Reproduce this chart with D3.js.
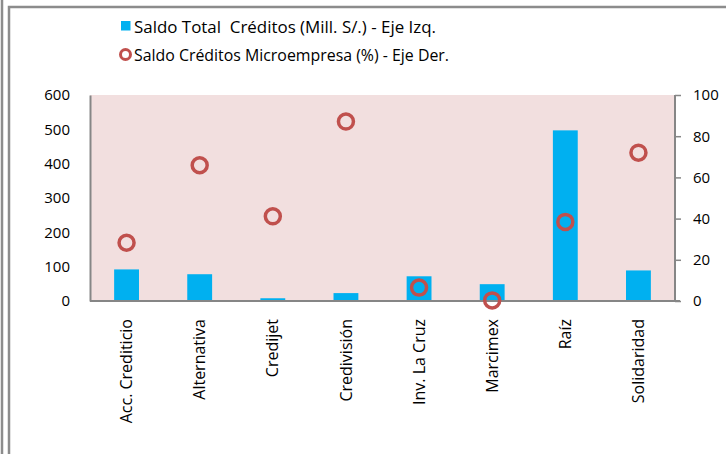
<!DOCTYPE html>
<html>
<head>
<meta charset="utf-8">
<script src="https://cdn.jsdelivr.net/npm/d3@7"></script>
<style>
  body { margin: 0; background: #fff; }
  svg text { font-family: "Open Sans", sans-serif; fill: #000; }
</style>
</head>
<body>
<div id="chart"></div>
<script>
// datos
var entidades = ["Acc. Crediticio", "Alternativa", "Credijet", "Credivisión", "Inv. La Cruz", "Marcimex", "Raíz", "Solidaridad"];
var saldoTotal = [92, 78, 8, 23, 72, 49, 497, 89];        // Mill. S/. - eje izq.
var saldoMicro = [28.3, 65.9, 41.1, 87.1, 6.5, 0.3, 38.4, 72.0]; // % - eje der.
var ticksIzq = [0, 100, 200, 300, 400, 500, 600];
var ticksDer = [0, 20, 40, 60, 80, 100];
var leyenda = ["Saldo Total  Créditos (Mill. S/.) - Eje Izq.", "Saldo Créditos Microempresa (%) - Eje Der."];

var W = 726, H = 454;
var margin = { top: 95, right: 51, bottom: 153, left: 90 };
var width = W - margin.left - margin.right;
var height = H - margin.top - margin.bottom;

var svg = d3.select("#chart").append("svg")
  .attr("width", W)
  .attr("height", H);

// marco exterior
svg.append("line").attr("x1", 2).attr("x2", 2).attr("y1", 0).attr("y2", H)
  .attr("stroke", "#8c8c8c").attr("stroke-width", 2.5);
svg.append("path").attr("d", "M9," + H + "V7H" + W)
  .attr("fill", "none").attr("stroke", "#8c8c8c").attr("stroke-width", 2.5);

var g = svg.append("g")
  .attr("transform", "translate(" + margin.left + "," + margin.top + ")");

var x = d3.scaleBand().domain(entidades).range([0, width]).paddingInner(0.66).paddingOuter(0.33);
var yIzq = d3.scaleLinear().domain([0, 600]).range([height, 0]);
var yDer = d3.scaleLinear().domain([0, 100]).range([height, 0]);

g.append("rect")
  .attr("width", width).attr("height", height)
  .attr("fill", "#f2dfdf");

g.selectAll(".bar")
  .data(saldoTotal)
  .enter().append("rect")
  .attr("class", "bar")
  .attr("x", function(d, i) { return x(entidades[i]); })
  .attr("y", function(d) { return yIzq(d); })
  .attr("width", x.bandwidth())
  .attr("height", function(d) { return height - yIzq(d); })
  .attr("fill", "#00b0f0");

// ejes
var axisIzq = d3.axisLeft(yIzq).tickValues(ticksIzq).tickSize(0).tickPadding(20);
var axisDer = d3.axisRight(yDer).tickValues(ticksDer).tickSize(6).tickPadding(12);
var axisX = d3.axisBottom(x).tickSize(0);

var gl = g.append("g").call(axisIzq);
var gr = g.append("g").attr("transform", "translate(" + width + ",0)").call(axisDer);
var gx = g.append("g").attr("transform", "translate(0," + height + ")").call(axisX);

[gl, gr, gx].forEach(function(a) {
  a.attr("font-size", null).attr("font-family", null);
  a.select(".domain").attr("stroke", "#868686").attr("stroke-width", 2);
  a.selectAll(".tick line").attr("stroke", "#868686").attr("stroke-width", 1.5);
  a.selectAll("text").style("font-size", "15px").attr("fill", "#000");
});
gr.select(".domain").attr("d", "M0," + height + "V0");
gx.select(".domain").attr("d", "M0,0H" + (width + 5));

gx.selectAll(".tick text")
  .style("font-size", "16px")
  .attr("transform", "rotate(-90)")
  .attr("text-anchor", "end")
  .attr("dx", "-18")
  .attr("dy", "0.35em")
  .attr("x", 0).attr("y", 0);

g.selectAll(".punto")
  .data(saldoMicro)
  .enter().append("circle")
  .attr("class", "punto")
  .attr("cx", function(d, i) { return x(entidades[i]) + x.bandwidth() / 2; })
  .attr("cy", function(d) { return yDer(d); })
  .attr("r", 7.5)
  .attr("fill", "none")
  .attr("stroke", "#c0504d")
  .attr("stroke-width", 3.5);

// leyenda
svg.append("rect").attr("x", 121).attr("y", 21).attr("width", 9.5).attr("height", 9.5).attr("fill", "#00b0f0");
svg.append("circle").attr("cx", 125.5).attr("cy", 54.5).attr("r", 5).attr("fill", "none")
  .attr("stroke", "#c0504d").attr("stroke-width", 3);
svg.selectAll(".leg")
  .data(leyenda)
  .enter().append("text")
  .attr("class", "leg")
  .attr("x", 134)
  .attr("y", function(d, i) { return 32.5 + i * 28; })
  .style("font-size", "16px")
  .style("white-space", "pre")
  .attr("textLength", function(d, i) { return i === 0 ? 302 : 315; })
  .attr("lengthAdjust", "spacingAndGlyphs")
  .text(function(d) { return d; });
</script>
</body>
</html>
